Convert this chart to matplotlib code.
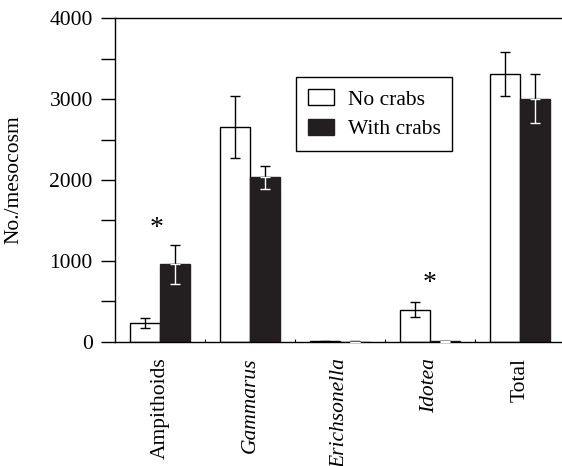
import numpy as np
import matplotlib
matplotlib.use('Agg')
import matplotlib.pyplot as plt
from matplotlib.patches import Patch

plt.rcParams['font.family'] = ['Liberation Serif', 'DejaVu Serif']

# data
groups = ['Ampithoids', 'Gammarus', 'Erichsonella', 'Idotea', 'Total']
italic = [False, True, True, True, False]
no_crabs = [230, 2655, 4, 396, 3313]
no_crabs_se = [62, 383, 4, 95, 274]
with_crabs = [955, 2031, 2, 3, 3008]
with_crabs_se = [240, 146, 2, 3, 299]
signif = [1405, None, None, 725, None]   # asterisk heights

fs = 15.5
dark = '#231f20'

fig = plt.figure(figsize=(5.62, 4.66), dpi=100)
ax = fig.add_axes([115/562, 1 - 341.7/466, 450/562, (341.7 - 18.3)/466])

x = np.arange(1, len(groups) + 1)
w = 1/3

ax.bar(x - w/2, no_crabs, w, color='white', edgecolor='black', linewidth=1.0, zorder=2)
ax.bar(x + w/2, with_crabs, w, color=dark, edgecolor=dark, linewidth=1.0, zorder=2)

ekw = dict(fmt='none', capsize=3.6, elinewidth=1.0, capthick=1.0, zorder=3)
ax.errorbar(x - w/2, no_crabs, yerr=no_crabs_se, ecolor='black', **ekw)
# upper half black, lower half (inside the black bar) white
ax.errorbar(x + w/2, with_crabs, yerr=[np.zeros(len(x)), with_crabs_se], ecolor='black', **ekw)
ax.errorbar(x + w/2, with_crabs, yerr=[with_crabs_se, np.zeros(len(x))], ecolor='white', **ekw)

for xi, s in zip(x, signif):
    if s is not None:
        off = -0.04 if xi == 1 else 0.0
        ax.text(xi + off, s, '*', ha='center', va='center', fontsize=20)

ax.set_xlim(0.5, 5.5)
ax.set_ylim(0, 4000)
ax.set_yticks([0, 1000, 2000, 3000, 4000])
ax.set_yticks(np.arange(500, 4000, 1000), minor=True)
ax.tick_params(axis='y', which='both', direction='out', length=10, width=1.0,
               labelsize=fs, pad=6)
ax.set_xticks(x)
ax.set_xticklabels(groups, rotation=90, fontsize=fs)
for lab, it in zip(ax.get_xticklabels(), italic):
    if it:
        lab.set_fontstyle('italic')
ax.set_xticks(x[:-1] + 0.5, minor=True)
ax.tick_params(axis='x', which='major', length=0, pad=11.5)
ax.tick_params(axis='x', which='minor', direction='in', length=2.5, width=0.8)

ax.spines['right'].set_visible(False)
for s in ['left', 'top', 'bottom']:
    ax.spines[s].set_linewidth(1.0)

ax.set_ylabel('No./mesocosm', fontsize=fs, labelpad=18.5)

handles = [Patch(facecolor='white', edgecolor='black', linewidth=1.0),
           Patch(facecolor=dark, edgecolor=dark)]
leg = ax.legend(handles, ['No crabs', 'With crabs'], loc='upper left',
                bbox_to_anchor=(0.402, 0.818), borderaxespad=0, fontsize=fs,
                fancybox=False, framealpha=1, handlelength=1.2, handleheight=0.8,
                handletextpad=0.65, labelspacing=0.42, borderpad=0.55)
leg.get_frame().set_edgecolor('black')
leg.get_frame().set_linewidth(1.0)

fig.savefig('out.png', dpi=100)
